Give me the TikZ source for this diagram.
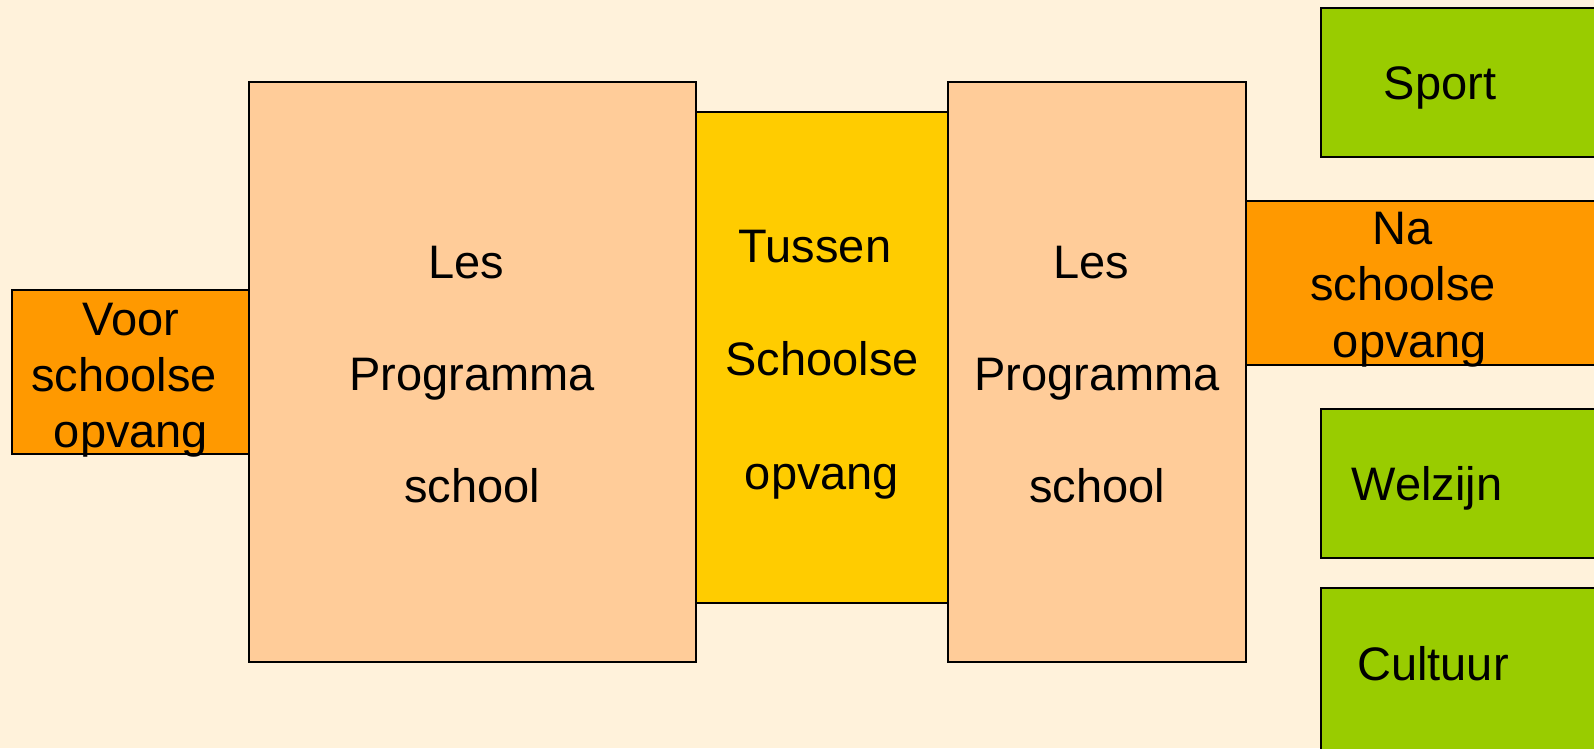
\documentclass[tikz,border=0pt]{standalone}
\usepackage{fontspec}
\setmainfont{Liberation Sans}
\definecolor{bgc}{HTML}{FFF2DB}
\definecolor{orangec}{HTML}{FF9900}
\definecolor{peachc}{HTML}{FFCC99}
\definecolor{yellowc}{HTML}{FFCC00}
\definecolor{greenc}{HTML}{99CC00}
\begin{document}
\begin{tikzpicture}[x=1pt,y=-1pt,
  box/.style={draw=black,line width=1.4pt,rectangle,inner sep=0pt},
  txt/.style={anchor=base,inner sep=0pt,font=\fontsize{47}{56}\selectfont}]
\useasboundingbox[fill=bgc] (0,0) rectangle (1594,748);
% boxes
\draw[box,fill=orangec] (12,290) rectangle (249,454) coordinate (voorbr);
\draw[box,fill=peachc] (249,82) rectangle (696,662);
\draw[box,fill=yellowc] (696,112) rectangle (948,603);
\draw[box,fill=peachc] (948,82) rectangle (1246,662);
\draw[box,fill=orangec] (1246,201) rectangle (1610,365);
\draw[box,fill=greenc] (1321,8) rectangle (1610,157);
\draw[box,fill=greenc] (1321,409) rectangle (1610,558);
\draw[box,fill=greenc] (1321,588) rectangle (1610,760);
% texts
\node[txt] (v1) at (131,335) {Voor};
\node[txt] (v2) at (124,391) {schoolse};
\node[txt] (v3) at (131,447) {opvang};
\node[txt] (l1) at (466,278) {Les};
\node[txt] (l2) at (472,390) {Programma};
\node[txt] (l3) at (472,502) {school};
\node[txt] (t1) at (815,262) {Tussen};
\node[txt] (t2) at (822,375) {Schoolse};
\node[txt] (t3) at (822,489) {opvang};
\node[txt] (r1) at (1091,278) {Les};
\node[txt] (r2) at (1097,390) {Programma};
\node[txt] (r3) at (1097,502) {school};
\node[txt] (n1) at (1403,244) {Na};
\node[txt] (n2) at (1403,300) {schoolse};
\node[txt] (n3) at (1410,357) {opvang};
\node[txt] (s1) at (1440,99) {Sport};
\node[txt] (w1) at (1427,500) {Welzijn};
\node[txt] (c1) at (1433,680) {Cultuur};
\end{tikzpicture}
\end{document}
